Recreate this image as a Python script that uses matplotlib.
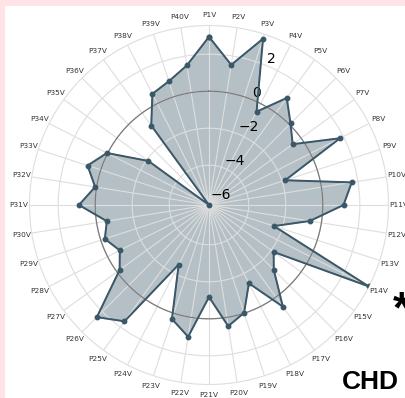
import numpy as np
import matplotlib
matplotlib.use("Agg")
import matplotlib.pyplot as plt
from matplotlib.patches import Rectangle

categories = [f"P{i}V" for i in range(1, 41)]
values = [2.94, 1.52, 3.30, -0.49, 1.00, 0.08, -0.56, 1.80, -1.82, 1.66,
          1.12, -0.63, -2.46, 3.55, -1.83, -1.20, 0.64, -1.40, -0.02, 0.48,
          -1.18, 1.06, 0.33, -2.54, 1.62, 2.42, -0.18, -0.74, -0.23, -0.56,
          0.88, 0.08, 0.75, 0.04, -2.10, -6.15, -0.84, 0.59, 0.88, 1.49]
r_ticks = [-6, -4, -2, 0, 2]
group_label = "CHD"
marker_label = "*"

line_color = "#3a5868"
fill_color = "#2c4d5e"
grid_color = "#dedede"

fig = plt.figure(figsize=(4.05, 3.98), dpi=100)
fig.patch.set_facecolor("#ffe3e6")
fig.patches.append(Rectangle((5 / 405, 0), 1, 1 - 6 / 398, transform=fig.transFigure,
                             facecolor="white", edgecolor="none", zorder=-5))

ax = fig.add_axes([29.5 / 405, 13.5 / 398, 359 / 405, 359 / 398], projection="polar")
ax.set_zorder(1)
ax.set_facecolor("white")
ax.set_theta_zero_location("N")
ax.set_theta_direction(-1)

n = len(categories)
angles = np.linspace(0, 2 * np.pi, n, endpoint=False)
ang_closed = np.concatenate([angles, angles[:1]])
val_closed = np.concatenate([values, values[:1]])

ax.fill(ang_closed, val_closed, color=fill_color, alpha=0.35, zorder=1)
ax.plot(ang_closed, val_closed, color=line_color, lw=1.4, marker="o", ms=3.2, zorder=3)

# reference circle at zero
circ_t = np.linspace(0, 2 * np.pi, 400)
ax.plot(circ_t, np.zeros_like(circ_t), color="#7a7a7a", lw=0.9, zorder=2)

ax.set_ylim(min(values), max(values))
ax.set_yticks(r_ticks)
ax.set_yticklabels([f"{t:d}".replace("-", "\u2212") for t in r_ticks], fontsize=10)
ax.set_rlabel_position(22.5)

ax.set_xticks(angles)
ax.set_xticklabels(categories, fontsize=5.3, color="#333333")
ax.tick_params(axis="x", pad=-3)

ax.grid(True, color=grid_color, lw=0.8)
ax.spines["polar"].set_color(grid_color)
ax.spines["polar"].set_linewidth(0.8)

fig.text(370 / 405, 1 - 382 / 398, group_label, fontsize=19, fontweight="bold",
         family="Liberation Sans", ha="center", va="center", zorder=5)
fig.text(401 / 405, 1 - 311 / 398, marker_label, fontsize=32, fontweight="bold",
         family="Liberation Sans", ha="center", va="center", zorder=5)

fig.savefig("out.png", dpi=100, facecolor=fig.get_facecolor())
